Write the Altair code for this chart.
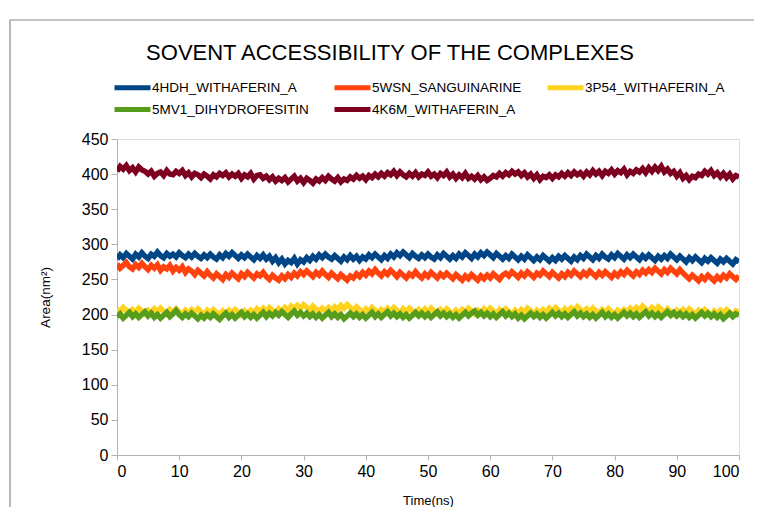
import altair as alt
import pandas as pd

series_names = ["4HDH_WITHAFERIN_A", "5WSN_SANGUINARINE", "3P54_WITHAFERIN_A",
                "5MV1_DIHYDROFESITIN", "4K6M_WITHAFERIN_A"]
series_colors = ["#004586", "#ff420e", "#ffd320", "#579d1c", "#7e0021"]

# time axis: 0 .. 100 ns every 0.5 ns
time_ns = [i * 0.5 for i in range(201)]

area_4HDH = [
    279, 285, 281, 287, 283, 279, 286, 282, 288, 283,
    280, 286, 283, 289, 284, 281, 287, 283, 286, 282,
    288, 284, 281, 286, 282, 287, 283, 280, 285, 281,
    286, 282, 279, 285, 281, 287, 283, 288, 284, 280,
    285, 281, 286, 282, 278, 284, 280, 285, 279, 283,
    276, 281, 274, 279, 272, 277, 274, 280, 272, 278,
    275, 281, 277, 283, 279, 285, 281, 286, 282, 279,
    284, 280, 276, 282, 278, 284, 279, 283, 277, 282,
    279, 285, 281, 286, 282, 278, 284, 280, 286, 282,
    288, 284, 289, 285, 281, 287, 283, 280, 285, 281,
    286, 282, 279, 285, 281, 287, 283, 279, 284, 280,
    286, 282, 288, 284, 280, 286, 282, 288, 284, 289,
    285, 281, 287, 283, 279, 284, 280, 286, 282, 278,
    283, 279, 285, 281, 277, 282, 278, 284, 280, 276,
    281, 277, 283, 279, 284, 280, 276, 282, 278, 284,
    280, 286, 282, 278, 284, 280, 286, 282, 279, 285,
    281, 287, 283, 279, 285, 281, 286, 282, 278, 284,
    280, 285, 281, 277, 283, 279, 284, 280, 286, 282,
    278, 283, 279, 275, 281, 277, 282, 278, 274, 280,
    276, 281, 277, 273, 279, 275, 280, 276, 272, 278,
    275,
]

area_5WSN = [
    272, 266, 270, 274, 268, 265, 271, 267, 273, 268,
    264, 270, 266, 271, 263, 268, 265, 270, 262, 267,
    263, 268, 260, 265, 262, 257, 263, 259, 255, 261,
    256, 252, 258, 254, 250, 257, 253, 259, 255, 251,
    258, 254, 260, 256, 252, 258, 255, 260, 254, 250,
    256, 252, 249, 255, 251, 257, 253, 259, 255, 261,
    257, 262, 258, 254, 260, 256, 262, 257, 253, 259,
    255, 251, 257, 253, 249, 255, 252, 258, 254, 260,
    256, 262, 258, 264, 259, 255, 261, 257, 263, 259,
    254, 260, 256, 252, 258, 255, 261, 256, 252, 258,
    254, 260, 256, 252, 258, 254, 259, 255, 251, 257,
    253, 249, 255, 251, 257, 253, 249, 255, 251, 256,
    252, 258, 254, 250, 256, 259, 255, 261, 257, 253,
    259, 255, 261, 257, 253, 259, 256, 262, 258, 254,
    260, 256, 252, 258, 254, 260, 256, 262, 258, 254,
    260, 256, 262, 258, 254, 260, 256, 261, 257, 253,
    259, 255, 261, 257, 263, 259, 255, 261, 257, 263,
    259, 264, 260, 266, 262, 258, 264, 260, 266, 262,
    258, 264, 259, 255, 251, 256, 252, 248, 254, 250,
    256, 252, 248, 254, 250, 256, 252, 258, 254, 250,
    255,
]

area_3P54 = [
    208, 204, 210, 206, 202, 207, 203, 209, 205, 201,
    206, 202, 208, 204, 209, 205, 201, 207, 203, 208,
    204, 200, 206, 202, 207, 203, 208, 204, 200, 206,
    202, 207, 203, 199, 205, 201, 206, 202, 207, 203,
    199, 205, 201, 206, 202, 208, 204, 209, 205, 210,
    206, 202, 208, 204, 210, 206, 212, 208, 213, 209,
    214, 210, 206, 212, 208, 204, 209, 205, 210, 206,
    211, 207, 213, 209, 214, 210, 206, 211, 207, 203,
    208, 204, 210, 206, 202, 207, 203, 209, 205, 210,
    206, 202, 208, 204, 209, 205, 201, 207, 203, 208,
    204, 209, 205, 201, 207, 203, 208, 204, 200, 206,
    202, 207, 203, 209, 205, 201, 206, 202, 208, 204,
    209, 205, 201, 207, 203, 208, 204, 200, 206, 202,
    207, 203, 209, 205, 201, 206, 202, 207, 203, 209,
    205, 210, 206, 202, 208, 204, 209, 205, 211, 207,
    203, 208, 204, 209, 205, 201, 207, 203, 208, 204,
    200, 206, 202, 207, 203, 209, 205, 210, 206, 212,
    208, 204, 210, 206, 211, 207, 203, 208, 204, 200,
    206, 202, 207, 203, 208, 204, 200, 206, 202, 207,
    203, 199, 205, 201, 206, 202, 207, 203, 199, 205,
    202,
]

area_5MV1 = [
    197, 201, 195, 199, 203, 197, 201, 196, 200, 204,
    198, 202, 196, 200, 195, 199, 203, 197, 201, 206,
    200, 196, 201, 197, 202, 198, 194, 199, 195, 200,
    196, 201, 197, 193, 198, 202, 196, 200, 195, 199,
    203, 197, 201, 196, 200, 195, 199, 203, 197, 202,
    198, 203, 199, 204, 200, 196, 201, 205, 199, 203,
    198, 202, 197, 201, 196, 200, 195, 199, 203, 197,
    201, 196, 200, 194, 198, 202, 197, 201, 196, 200,
    195, 199, 203, 197, 201, 196, 200, 204, 198, 202,
    197, 201, 196, 200, 195, 199, 203, 198, 202, 197,
    201, 196, 200, 204, 198, 202, 197, 201, 196, 200,
    195, 199, 203, 198, 202, 205, 199, 203, 198, 202,
    197, 201, 196, 200, 204, 198, 202, 197, 201, 195,
    199, 194, 198, 202, 197, 201, 196, 200, 195, 199,
    203, 198, 202, 197, 201, 196, 200, 204, 198, 202,
    197, 201, 196, 200, 195, 199, 203, 197, 201, 196,
    200, 195, 199, 203, 198, 202, 197, 201, 196, 200,
    204, 198, 202, 197, 201, 196, 200, 204, 199, 203,
    198, 202, 197, 201, 196, 200, 195, 199, 203, 198,
    202, 197, 201, 196, 200, 194, 198, 202, 197, 201,
    199,
]

area_4K6M = [
    404, 411, 407, 412, 405, 409, 403, 410, 406, 404,
    400, 404, 397, 401, 403, 398, 405, 400, 399, 404,
    401, 405, 398, 402, 396, 401, 399, 395, 400, 397,
    393, 399, 396, 401, 398, 402, 396, 400, 397, 401,
    394, 399, 396, 401, 393, 398, 399, 394, 397, 392,
    396, 390, 394, 391, 395, 389, 393, 397, 390, 394,
    388, 394, 391, 387, 393, 390, 395, 391, 397, 393,
    390, 395, 389, 393, 391, 396, 393, 398, 394, 397,
    392, 398, 395, 400, 396, 401, 397, 402, 399, 404,
    398, 403, 399, 396, 401, 397, 402, 396, 400, 398,
    403, 397, 400, 395, 401, 398, 403, 396, 400, 394,
    399, 395, 401, 394, 397, 393, 398, 392, 396, 391,
    394, 398, 396, 401, 397, 402, 399, 404, 400, 403,
    398, 402, 396, 400, 394, 399, 392, 397, 395, 399,
    394, 399, 396, 401, 397, 402, 398, 403, 399, 402,
    397, 403, 399, 405, 400, 404, 398, 404, 401, 406,
    400, 405, 402, 407, 399, 404, 401, 406, 403, 408,
    402, 409, 404, 410, 405, 411, 403, 407, 401, 404,
    397, 402, 394, 398, 392, 397, 395, 400, 398, 404,
    400, 405, 398, 402, 396, 401, 395, 400, 393, 398,
    396,
]

y_ticks = [0, 50, 100, 150, 200, 250, 300, 350, 400, 450]
x_ticks = [0, 10, 20, 30, 40, 50, 60, 70, 80, 90, 100]

all_series = [area_4HDH, area_5WSN, area_3P54, area_5MV1, area_4K6M]
rows = []
for name, vals in zip(series_names, all_series):
    for t, v in zip(time_ns, vals):
        rows.append({"time": t, "area": v, "series": name})
df = pd.DataFrame(rows)

FONT = "Liberation Sans"
W, H = 622, 316

color = alt.Color(
    "series:N",
    scale=alt.Scale(domain=series_names, range=series_colors),
    legend=alt.Legend(
        title=None, orient="none", legendX=4, legendY=-63, direction="horizontal",
        columns=3, columnPadding=15, rowPadding=-1,
        symbolType="M-2,0H2", symbolSize=324, symbolStrokeWidth=5,
        symbolOpacity=1,
        labelFont=FONT, labelFontSize=13.5, labelColor="#000000", labelOffset=8,
        labelLimit=400,
    ),
)

x = alt.X("time:Q", scale=alt.Scale(domain=[0, 100], nice=False),
          axis=alt.Axis(values=x_ticks, title="Time(ns)", grid=False,
                        labelFont=FONT, labelFontSize=16, labelColor="#000000",
                        labelPadding=3, tickSize=5, tickColor="#b3b3b3",
                        domainColor="#b3b3b3", titleFont=FONT, titleFontSize=13,
                        titleFontWeight="normal", titleColor="#000000",
                        titleX=W / 2, titleY=45, titleBaseline="middle"))
y = alt.Y("area:Q", scale=alt.Scale(domain=[0, 450], nice=False),
          axis=alt.Axis(values=y_ticks, title="Area(nm²)", grid=False,
                        labelFont=FONT, labelFontSize=16, labelColor="#000000",
                        labelPadding=3, tickSize=6, tickColor="#b3b3b3",
                        domainColor="#b3b3b3", titleFont=FONT, titleFontSize=13.5,
                        titleFontWeight="normal", titleColor="#000000",
                        titleX=-72, titleY=H / 2, titleBaseline="middle",
                        titleAlign="center"))

layers = []
frame = alt.Chart(pd.DataFrame({"a": [0]})).mark_rect(
    fill=None, stroke="#8c8c8c", strokeWidth=1.2
).encode(x=alt.value(-107), x2=alt.value(700), y=alt.value(-119), y2=alt.value(600))
layers.append(frame)
for name in series_names:
    layers.append(
        alt.Chart(df).transform_filter(alt.datum.series == name)
        .mark_line(strokeWidth=5.5, clip=True)
        .encode(x=x, y=y, color=color)
    )

chart = alt.layer(*layers).properties(
    width=W, height=H,
    title=alt.TitleParams("SOVENT ACCESSIBILITY OF THE COMPLEXES", font=FONT,
                          fontSize=22, fontWeight="normal", color="#000000",
                          anchor="middle", dx=-38, offset=0, dy=46),
    autosize=alt.AutoSizeParams(type="none"),
    padding={"left": 109, "top": 131, "right": 15, "bottom": 52},
).configure_view(stroke="#b3b3b3", strokeWidth=1).configure(background="white")

chart.save("out.html", embed_options={"renderer": "svg", "actions": False})
